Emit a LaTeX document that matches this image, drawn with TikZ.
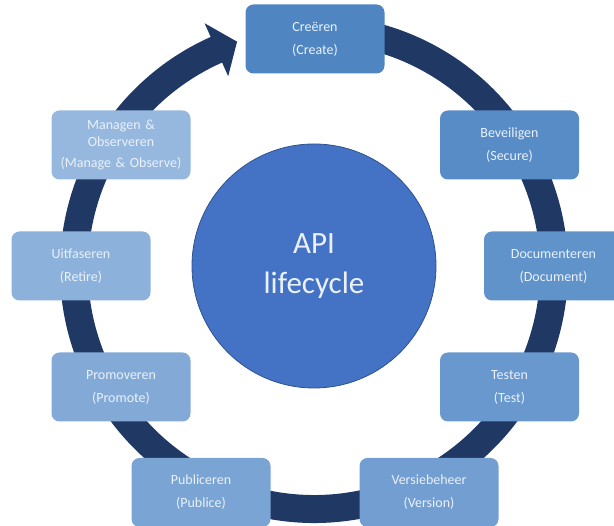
\documentclass[tikz,border=0pt]{standalone}
\usepackage{fontspec}
\setmainfont{Carlito}
\usetikzlibrary{calc}
\definecolor{ringc}{RGB}{31,56,100}
\definecolor{circc}{RGB}{68,114,196}
\definecolor{circb}{RGB}{47,82,143}
\definecolor{txtc}{RGB}{234,241,250}
\definecolor{cA}{RGB}{79,134,194}
\definecolor{cB}{RGB}{88,140,198}
\definecolor{cC}{RGB}{97,147,203}
\definecolor{cD}{RGB}{105,152,206}
\definecolor{cE}{RGB}{114,158,209}
\definecolor{cF}{RGB}{122,164,212}
\definecolor{cG}{RGB}{131,170,215}
\definecolor{cH}{RGB}{140,177,219}
\definecolor{cI}{RGB}{150,184,223}
\tikzset{
  stagebox/.style={rounded corners=8pt, minimum width=139pt, minimum height=69pt,
    text width=135pt, align=center, text=txtc, inner sep=0pt,
    font=\fontsize{14}{17}\selectfont},
  ringfill/.style={fill=ringc},
}
\begin{document}
\begin{tikzpicture}[x=1pt,y=1pt]
\useasboundingbox (0,0) rectangle (614,526);
% ring with arrow head
\coordinate (C) at (314,257);
\begin{scope}[shift={(C)}]
\fill[ringfill] (80:254) arc[start angle=80, end angle=-246, radius=254]
  -- (-246:269) -- (-251.3:240) -- (-246:211) -- (-246:226)
  arc[start angle=-246, end angle=80, radius=226] -- cycle;
\end{scope}
% central circle
\node[circle, draw=circb, line width=0.8pt, fill=circc, minimum size=244pt, inner sep=0pt,
  text=txtc, align=center, font=\fontsize{31}{40}\selectfont] (core) at (314,260) {API\\lifecycle};
% stages
\node[stagebox, fill=cA] (create) at (315,487) {Creëren\\[6pt](Create)};
\node[stagebox, fill=cB] (secure) at (509.5,381) {Beveiligen\\[6pt](Secure)};
\node[stagebox, fill=cC] (document) at (553.5,260) {Documenteren\\[6pt](Document)};
\node[stagebox, fill=cD] (test) at (509.5,139) {Testen\\[6pt](Test)};
\node[stagebox, fill=cE] (version) at (429,33.5) {Versiebeheer\\[6pt](Version)};
\node[stagebox, fill=cF] (publish) at (201,33.5) {Publiceren\\[6pt](Publice)};
\node[stagebox, fill=cG] (promote) at (121,139) {Promoveren\\[6pt](Promote)};
\node[stagebox, fill=cH] (retire) at (81,260) {Uitfaseren\\[6pt](Retire)};
\node[stagebox, fill=cI] (manage) at (121,381) {Managen \&\\Observeren\\[4pt](Manage \& Observe)};
\end{tikzpicture}
\end{document}
